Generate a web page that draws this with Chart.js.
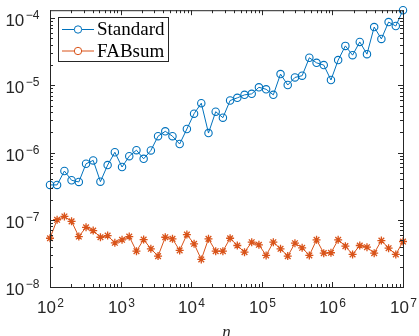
<!DOCTYPE html>
<html>
<head>
<meta charset="utf-8">
<script src="https://cdn.jsdelivr.net/npm/chart.js@4.4.0/dist/chart.umd.min.js"></script>
<style>
  html, body { margin: 0; padding: 0; background: #fff; }
</style>
</head>
<body>
<canvas id="myChart" width="419" height="336"></canvas>
<script>
// problem sizes n (50 log-spaced values, 1e2 .. 1e7)
var sizes = [100, 126, 160, 202, 256, 324, 409, 518, 655, 829,
  1048, 1326, 1677, 2121, 2683, 3393, 4292, 5429, 6866, 8685,
  10985, 13895, 17575, 22230, 28118, 35565, 44984, 56899, 71969, 91030,
  115140, 145635, 184207, 232995, 294705, 372759, 471487, 596362, 754312, 954095,
  1206793, 1526418, 1930698, 2442053, 3088844, 3906940, 4941713, 6250552, 7906043, 10000000];

var standardErr = [3.30e-7, 3.30e-7, 5.31e-7, 3.87e-7, 3.65e-7, 6.81e-7, 7.64e-7, 3.69e-7, 6.51e-7, 1.01e-6,
  6.09e-7, 8.84e-7, 1.085e-6, 8.07e-7, 1.074e-6, 1.75e-6, 2.07e-6, 1.75e-6, 1.34e-6, 2.24e-6,
  3.78e-6, 5.42e-6, 1.95e-6, 4.05e-6, 3.30e-6, 5.94e-6, 6.51e-6, 7.21e-6, 7.46e-6, 9.34e-6,
  8.73e-6, 7.21e-6, 1.47e-5, 1.01e-5, 1.31e-5, 1.39e-5, 2.57e-5, 2.16e-5, 2.00e-5, 1.20e-5,
  2.37e-5, 3.86e-5, 2.81e-5, 4.42e-5, 2.91e-5, 7.36e-5, 4.90e-5, 8.73e-5, 7.62e-5, 1.31e-4];

var fabsumErr = [5.31e-8, 1.00e-7, 1.12e-7, 9.47e-8, 5.63e-8, 7.72e-8, 6.90e-8, 5.50e-8, 5.82e-8, 4.54e-8,
  5.03e-8, 5.63e-8, 3.41e-8, 5.08e-8, 3.70e-8, 2.88e-8, 5.50e-8, 5.20e-8, 3.50e-8, 6.02e-8,
  4.39e-8, 2.57e-8, 5.20e-8, 3.41e-8, 3.41e-8, 5.31e-8, 4.14e-8, 3.30e-8, 4.64e-8, 4.24e-8,
  2.95e-8, 4.64e-8, 3.70e-8, 2.88e-8, 4.48e-8, 3.83e-8, 2.95e-8, 5.03e-8, 3.19e-8, 3.23e-8,
  5.03e-8, 4.05e-8, 3.05e-8, 4.14e-8, 3.91e-8, 3.19e-8, 4.91e-8, 3.78e-8, 3.05e-8, 4.75e-8];

var seriesNames = ['Standard', 'FABsum'];
var xRange = [1e2, 1e7];
var yRange = [1e-8, 1.31e-4];

var BLUE = '#0072BD', ORANGE = '#D95319', AXIS = '#262626';
var BASE_FONT = '17px "Liberation Sans", Arial, sans-serif';
var EXP_FONT = '12px "Liberation Sans", Arial, sans-serif';

function toPoints(ys) {
  var pts = [];
  for (var i = 0; i < sizes.length; i++) pts.push({x: sizes[i], y: ys[i]});
  return pts;
}

// exponent of a power of ten, or null for minor ticks
function decade(v) {
  var e = Math.log10(v), r = Math.round(e);
  return Math.abs(e - r) > 1e-6 ? null : r;
}

// draws "10" with a raised exponent; anchor = 'right' (y axis) or 'center' (x axis)
function drawPow(ctx, exp, x, yBase, yExp, anchor) {
  var s = String(exp).replace('-', '\u2212');
  ctx.font = BASE_FONT;
  var w1 = ctx.measureText('10').width;
  ctx.font = EXP_FONT;
  var w2 = ctx.measureText(s).width;
  var gap = 1.5;
  var x0 = anchor === 'right' ? x - (w1 + gap + w2) : x - (w1 + gap + w2) / 2;
  ctx.textAlign = 'left';
  ctx.textBaseline = 'alphabetic';
  ctx.font = BASE_FONT;
  ctx.fillText('10', x0, yBase);
  ctx.font = EXP_FONT;
  ctx.fillText(s, x0 + w1 + gap, yExp);
}

// inward ticks on all four sides, axes box, tick labels and legend
var boxTicks = {
  id: 'boxTicks',
  afterDraw: function(chart) {
    var ctx = chart.ctx, a = chart.chartArea;
    ctx.save();
    ctx.strokeStyle = AXIS;
    ctx.fillStyle = AXIS;
    ctx.lineWidth = 1;
    ['x', 'y'].forEach(function(id) {
      var sc = chart.scales[id];
      sc.ticks.forEach(function(t) {
        var v = t.value;
        var m = v / Math.pow(10, Math.floor(Math.log10(v) + 1e-9));
        if (Math.abs(m - Math.round(m)) > 1e-6) return;
        var d = decade(v);
        var len = d !== null ? 5 : 3;
        var p = Math.round(sc.getPixelForValue(v)) + 0.5;
        ctx.beginPath();
        if (id === 'x') {
          ctx.moveTo(p, a.bottom); ctx.lineTo(p, a.bottom - len);
          ctx.moveTo(p, a.top); ctx.lineTo(p, a.top + len);
        } else {
          ctx.moveTo(a.left, p); ctx.lineTo(a.left + len, p);
          ctx.moveTo(a.right, p); ctx.lineTo(a.right - len, p);
        }
        ctx.stroke();
        if (d !== null) {
          if (id === 'x') drawPow(ctx, d, p, a.bottom + 26, a.bottom + 20, 'center');
          else drawPow(ctx, d, a.left - 10.5, p + 7.5, p, 'right');
        }
      });
    });
    ctx.strokeRect(a.left + 0.5, a.top + 0.5, a.right - a.left, a.bottom - a.top);

    // legend box
    var lx = 58.5, ly = 17.5, lw = 110, lh = 44;
    ctx.fillStyle = '#fff';
    ctx.fillRect(lx, ly, lw, lh);
    ctx.strokeStyle = AXIS;
    ctx.strokeRect(lx, ly, lw, lh);
    var cols = [BLUE, ORANGE];
    ctx.font = '19px "Liberation Serif", serif';
    ctx.textAlign = 'left';
    ctx.textBaseline = 'middle';
    for (var i = 0; i < seriesNames.length; i++) {
      var yy = 29.5 + i * 21.5;
      ctx.strokeStyle = cols[i];
      ctx.beginPath(); ctx.moveTo(62, yy); ctx.lineTo(94, yy); ctx.stroke();
      ctx.fillStyle = '#fff';
      ctx.beginPath(); ctx.arc(78, yy, 3.7, 0, Math.PI * 2); ctx.fill(); ctx.stroke();
      ctx.fillStyle = '#000';
      ctx.fillText(seriesNames[i], 97, yy + 1);
    }
    ctx.restore();
  }
};

var chartData = {
  type: 'line',
  data: {
    datasets: [{
      label: seriesNames[0],
      data: toPoints(standardErr),
      borderColor: BLUE,
      backgroundColor: 'rgba(0,0,0,0)',
      borderWidth: 1,
      pointStyle: 'circle',
      pointRadius: 3.7,
      pointBorderWidth: 1.1,
      pointBorderColor: BLUE,
      pointBackgroundColor: 'rgba(0,0,0,0)',
      clip: false
    }, {
      label: seriesNames[1],
      data: toPoints(fabsumErr),
      borderColor: ORANGE,
      backgroundColor: 'rgba(0,0,0,0)',
      borderWidth: 1,
      pointStyle: 'star',
      pointRadius: 4,
      pointBorderWidth: 1.3,
      pointBorderColor: ORANGE,
      clip: false
    }]
  },
  options: {
    responsive: false,
    animation: false,
    devicePixelRatio: 1,
    layout: { padding: { left: 0, right: 16, top: 8, bottom: 0 } },
    plugins: { legend: { display: false }, tooltip: { enabled: false } },
    scales: {
      x: {
        type: 'logarithmic',
        min: xRange[0], max: xRange[1],
        grid: { display: false, drawTicks: false },
        border: { display: false },
        ticks: { autoSkip: false, maxRotation: 0, callback: function() { return ''; } },
        title: {
          display: true, text: 'n', color: AXIS,
          font: { family: '"Liberation Serif", serif', size: 17, style: 'italic', lineHeight: 0.45 },
          padding: { top: 0, bottom: 0 }
        },
        afterFit: function(s) { s.height = 49; }
      },
      y: {
        type: 'logarithmic',
        min: yRange[0], max: yRange[1],
        grid: { display: false, drawTicks: false },
        border: { display: false },
        ticks: { autoSkip: false, callback: function() { return ''; } },
        afterFit: function(s) { s.width = 50; }
      }
    }
  },
  plugins: [boxTicks]
};

var ctx = document.getElementById('myChart').getContext('2d');
var myChart = new Chart(ctx, chartData);
</script>
</body>
</html>
